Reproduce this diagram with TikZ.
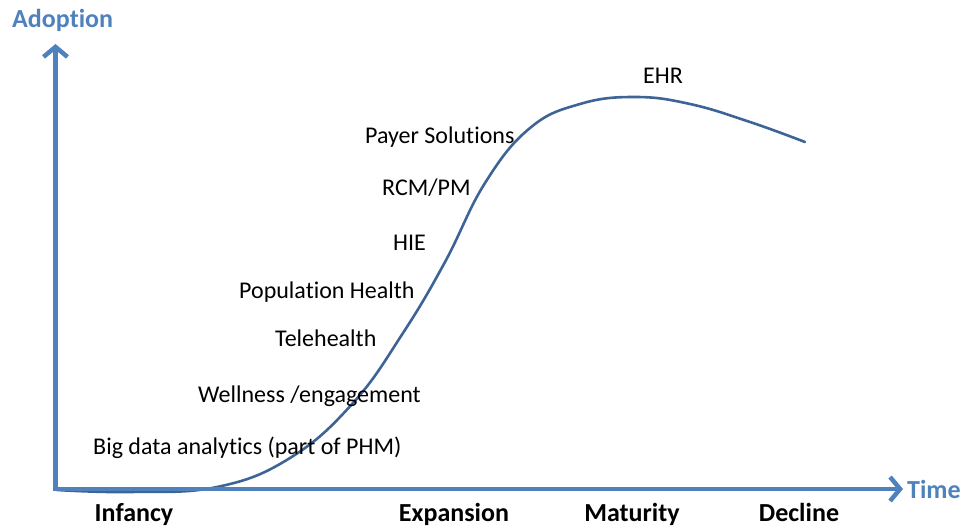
\documentclass[tikz,border=0pt]{standalone}
\usepackage{fontspec}
\setmainfont{Carlito}[Ligatures=CommonOff]
\usetikzlibrary{arrows.meta}
\definecolor{axisblue}{HTML}{4F81BD}
\definecolor{curveblue}{HTML}{3E6497}
\newcommand{\nolig}{\kern0pt}
\begin{document}
\begin{tikzpicture}
        [
            x=1pt, y=-1pt,
            tech/.style = {inner sep=0pt, font=\fontsize{24}{28}\selectfont, text=black},
            phase/.style = {inner sep=0pt, anchor=base, font=\fontsize{26}{30}\selectfont\bfseries, text=black},
            axisname/.style = {inner sep=0pt, anchor=base west, font=\fontsize{26}{30}\selectfont\bfseries, text=axisblue},
            axis/.style = {draw=axisblue, line width=4.5pt, -{Straight Barb[length=10pt, width=24pt, line width=4.5pt]}},
        ]
        \useasboundingbox (0,0) rectangle (964,527);
        \coordinate (origin) at (55.5,489);
        \coordinate (corner) at (53.25,489);
        \coordinate (ytip) at (55.5,44);
        \coordinate (xtip) at (903,489);
        % the adoption curve
        \draw[curveblue, line width=2.6pt, line cap=round]
            plot[smooth, tension=0.7] coordinates {(57,490) (130,492) (217,487) (290,458) (353,403) (403,333) (445,262) (485,183) (530,128) (580,104) (635,97) (690,104) (750,122) (805,142)};
        % axes
        \draw[axis] (origin) ++(0,2.25) -- (ytip);
        \draw[axis] (corner) -- (xtip);
        \node[axisname] (adoption) at (12,28) {Adopt\nolig ion};
        \node[axisname] (time) at (907,498) {Time};
        % technologies
        \node[tech, anchor=west] (bigdata) at (93,448) {Big data analytics (part of PHM)};
        \node[tech, anchor=west] (wellness) at (198,396) {Wellness /engagement};
        \node[tech, anchor=west] (telehealth) at (275,338) {Telehealth};
        \node[tech, anchor=west] (pophealth) at (239,292) {Populat\nolig ion Health};
        \node[tech, anchor=west] (hie) at (393,243) {HIE};
        \node[tech, anchor=west] (rcm) at (382,188) {RCM/PM};
        \node[tech, anchor=west] (payer) at (365,137) {Payer Solut\nolig ions};
        \node[tech, anchor=west] (ehr) at (643,76) {EHR};
        % phases
        \node[phase] (infancy) at (134,521) {Infancy};
        \node[phase] (expansion) at (454,521) {Expansion};
        \node[phase] (maturity) at (632,521) {Maturity};
        \node[phase] (decline) at (799,521) {Decline};
\end{tikzpicture}
\end{document}
